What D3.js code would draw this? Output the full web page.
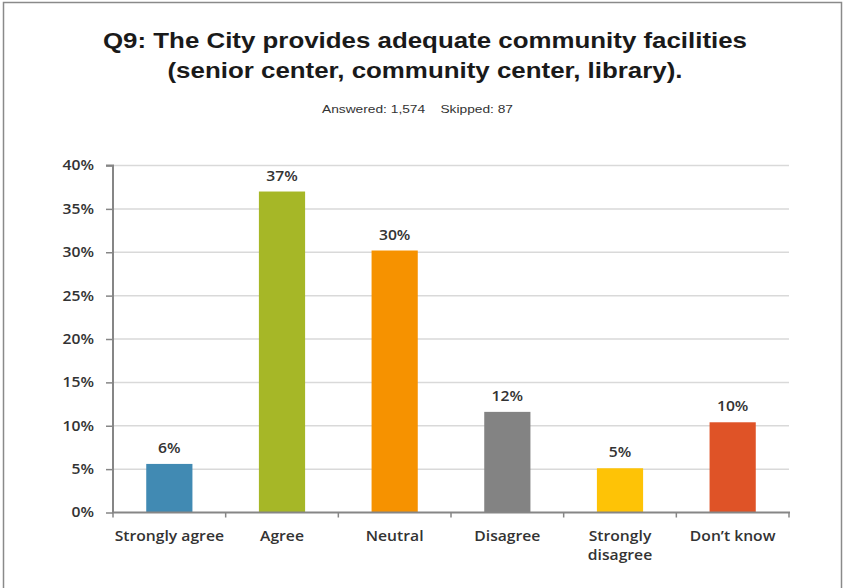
<!DOCTYPE html>
<html>
<head>
<meta charset="utf-8">
<script src="https://cdn.jsdelivr.net/npm/d3@7"></script>
<style>
  html, body { margin: 0; padding: 0; background: #fff; }
  svg { display: block; }
</style>
</head>
<body>
<svg id="chart" width="844" height="588"></svg>
<script>
const categories = ["Strongly agree", "Agree", "Neutral", "Disagree", "Strongly disagree", "Don\u2019t know"];
const values = [5.6, 37.0, 30.2, 11.6, 5.1, 10.4];
const valueLabels = ["6%", "37%", "30%", "12%", "5%", "10%"];
const colors = ["#418ab3", "#a6b727", "#f69200", "#838383", "#fec306", "#df5327"];
const yTicks = [0, 5, 10, 15, 20, 25, 30, 35, 40];
const titleLines = ["Q9: The City provides adequate community facilities", "(senior center, community center, library)."];
const subtitle = "Answered: 1,574\u00a0\u00a0\u00a0\u00a0Skipped: 87";
const categoryLines = [["Strongly agree"], ["Agree"], ["Neutral"], ["Disagree"], ["Strongly", "disagree"], ["Don\u2019t know"]];

(function () {
const svg = d3.select("#chart");

// stretch text horizontally (the reference text is wider than the installed fonts)
function stretch(sel, factor) {
  sel.each(function () {
    const w = this.getComputedTextLength();
    d3.select(this).attr("textLength", w * factor).attr("lengthAdjust", "spacingAndGlyphs");
  });
}

// frame
svg.append("rect")
  .attr("x", 3.5).attr("y", 2.5).attr("width", 838).attr("height", 600)
  .attr("fill", "none").attr("stroke", "#8a8a8a").attr("stroke-width", 1.5);

// title
const titleWidths = [644, 515];
titleLines.forEach((t, i) => {
  svg.append("text")
    .attr("x", 425).attr("y", 47.5 + i * 30.5)
    .attr("text-anchor", "middle")
    .attr("font-family", "Liberation Sans, Arial, sans-serif")
    .attr("font-weight", "bold").attr("font-size", 22).attr("fill", "#1a1a1a")
    .attr("textLength", titleWidths[i]).attr("lengthAdjust", "spacingAndGlyphs")
    .text(t);
});

svg.append("text")
  .attr("x", 417.5).attr("y", 113)
  .attr("text-anchor", "middle")
  .attr("font-family", "Liberation Sans, Arial, sans-serif")
  .attr("font-size", 10.5).attr("fill", "#333")
  .attr("textLength", 191).attr("lengthAdjust", "spacingAndGlyphs")
  .text(subtitle);

const pLeft = 113, pRight = 789, pTop = 165.5, pBottom = 512.5;

const xOuter = d3.scaleBand().domain(categories).range([pLeft, pRight]).padding(0);
const x = d3.scaleBand().domain(categories).range([pLeft, pRight]).paddingInner(0.59).paddingOuter(0.295);
const y = d3.scaleLinear().domain([0, 40]).range([pBottom, pTop]);

const fontAxis = "'Open Sans', 'Noto Sans', sans-serif";
const axisSize = 14;
const axisStretch = 1.12;

// gridlines
svg.append("g").selectAll("line").data(yTicks.filter(d => d > 0)).join("line")
  .attr("x1", pLeft).attr("x2", pRight)
  .attr("y1", d => y(d)).attr("y2", d => y(d))
  .attr("stroke", "#d9d9d9").attr("stroke-width", 1.5);

// bars
svg.append("g").selectAll("rect").data(categories).join("rect")
  .attr("x", d => x(d))
  .attr("width", x.bandwidth())
  .attr("y", (d, i) => y(values[i]))
  .attr("height", (d, i) => y(0) - y(values[i]))
  .attr("fill", (d, i) => colors[i]);

// value labels
const vl = svg.append("g").selectAll("text").data(categories).join("text")
  .attr("x", d => x(d) + x.bandwidth() / 2)
  .attr("y", (d, i) => y(values[i]) - 11)
  .attr("text-anchor", "middle")
  .attr("font-family", fontAxis).attr("font-weight", 600)
  .attr("font-size", axisSize).attr("fill", "#333")
  .text((d, i) => valueLabels[i]);
stretch(vl, axisStretch);

// y axis
const yAxis = d3.axisLeft(y).tickValues(yTicks).tickFormat(d => d + "%").tickSize(7).tickPadding(12);
const gy = svg.append("g").attr("transform", `translate(${pLeft},0)`).call(yAxis);
gy.select(".domain").attr("stroke", "#868686").attr("stroke-width", 2).attr("d", `M-7,${pTop}H0V${pBottom}`);
gy.selectAll(".tick line").attr("stroke", "#868686").attr("stroke-width", 1.5);
const yl = gy.selectAll(".tick text")
  .attr("font-family", fontAxis).attr("font-weight", 600)
  .attr("font-size", axisSize).attr("fill", "#333");
stretch(yl, axisStretch);

// x axis
const gx = svg.append("g");
gx.append("line").attr("x1", pLeft - 1).attr("x2", pRight + 1)
  .attr("y1", pBottom).attr("y2", pBottom)
  .attr("stroke", "#868686").attr("stroke-width", 2);
const boundaries = categories.map(c => xOuter(c)).concat([pRight]);
gx.selectAll("line.tick").data(boundaries).join("line").attr("class", "tick")
  .attr("x1", d => d).attr("x2", d => d)
  .attr("y1", pBottom).attr("y2", pBottom + 5)
  .attr("stroke", "#868686").attr("stroke-width", 1.5);

const catRows = [];
categories.forEach((c, i) => categoryLines[i].forEach((line, j) => catRows.push({ c, line, j })));
const ct = gx.selectAll("text").data(catRows).join("text")
  .attr("x", d => xOuter(d.c) + xOuter.bandwidth() / 2)
  .attr("y", d => pBottom + 28 + d.j * 19.5)
  .attr("text-anchor", "middle")
  .attr("font-family", fontAxis).attr("font-weight", 600)
  .attr("font-size", axisSize).attr("fill", "#333")
  .text(d => d.line);
stretch(ct, axisStretch);
})();
</script>
</body>
</html>
